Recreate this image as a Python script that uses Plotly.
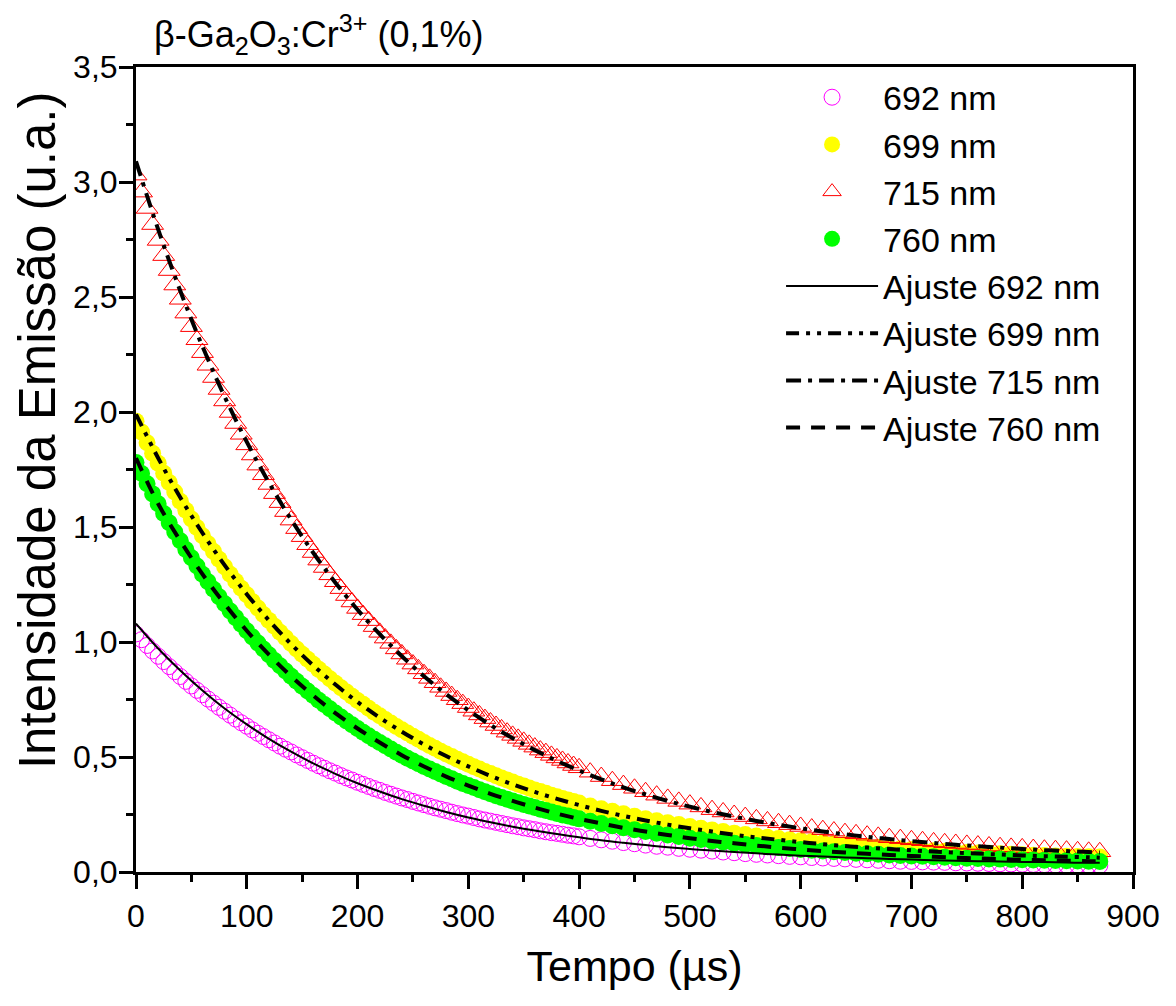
import plotly.graph_objects as go

# ---------------- data ----------------
time_us = [
    0, 5, 10, 15, 20, 25, 30, 35, 40, 45, 50, 55, 60, 65, 70, 75, 80, 85, 90, 95,
    100, 105, 110, 115, 120, 125, 130, 135, 140, 145, 150, 155, 160, 165, 170, 175, 180, 185, 190, 195,
    200, 205, 210, 215, 220, 225, 230, 235, 240, 245, 250, 255, 260, 265, 270, 275, 280, 285, 290, 295,
    300, 305, 310, 315, 320, 325, 330, 335, 340, 345, 350, 355, 360, 365, 370, 375, 380, 385, 390, 395,
    400, 410, 420, 430, 440, 450, 460, 470, 480, 490, 500, 510, 520, 530, 540, 550, 560, 570, 580, 590,
    600, 610, 620, 630, 640, 650, 660, 670, 680, 690, 700, 710, 720, 730, 740, 750, 760, 770, 780, 790,
    800, 810, 820, 830, 840, 850, 860, 870,
]

em_692 = [
    1.035, 1.010, 0.985, 0.961, 0.938, 0.915, 0.893, 0.871, 0.850, 0.829, 0.809, 0.790, 0.771, 0.752, 0.734, 0.716, 0.699, 0.682, 0.665, 0.649,
    0.634, 0.618, 0.603, 0.589, 0.575, 0.561, 0.547, 0.534, 0.522, 0.509, 0.497, 0.485, 0.473, 0.462, 0.451, 0.440, 0.430, 0.419, 0.409, 0.400,
    0.390, 0.381, 0.372, 0.363, 0.355, 0.346, 0.338, 0.330, 0.322, 0.315, 0.307, 0.300, 0.293, 0.286, 0.279, 0.273, 0.267, 0.260, 0.254, 0.248,
    0.243, 0.237, 0.231, 0.226, 0.221, 0.216, 0.211, 0.206, 0.201, 0.197, 0.192, 0.188, 0.184, 0.179, 0.175, 0.171, 0.168, 0.164, 0.160, 0.157,
    0.153, 0.146, 0.140, 0.134, 0.128, 0.123, 0.117, 0.112, 0.108, 0.103, 0.099, 0.095, 0.091, 0.087, 0.084, 0.080, 0.077, 0.074, 0.071, 0.068,
    0.066, 0.063, 0.061, 0.059, 0.057, 0.055, 0.053, 0.051, 0.049, 0.047, 0.046, 0.044, 0.043, 0.042, 0.040, 0.039, 0.038, 0.037, 0.036, 0.035,
    0.034, 0.033, 0.032, 0.031, 0.030, 0.030, 0.029, 0.028,
]

em_699 = [
    1.960, 1.913, 1.866, 1.821, 1.777, 1.734, 1.693, 1.652, 1.612, 1.573, 1.535, 1.498, 1.462, 1.427, 1.393, 1.360, 1.327, 1.295, 1.264, 1.234,
    1.205, 1.176, 1.148, 1.120, 1.094, 1.068, 1.042, 1.018, 0.993, 0.970, 0.947, 0.925, 0.903, 0.881, 0.861, 0.840, 0.821, 0.801, 0.783, 0.764,
    0.746, 0.729, 0.712, 0.695, 0.679, 0.663, 0.648, 0.633, 0.618, 0.604, 0.590, 0.577, 0.563, 0.550, 0.538, 0.525, 0.513, 0.502, 0.490, 0.479,
    0.468, 0.458, 0.448, 0.437, 0.428, 0.418, 0.409, 0.400, 0.391, 0.382, 0.374, 0.365, 0.357, 0.350, 0.342, 0.334, 0.327, 0.320, 0.313, 0.306,
    0.300, 0.287, 0.275, 0.264, 0.253, 0.242, 0.232, 0.223, 0.214, 0.206, 0.198, 0.190, 0.183, 0.176, 0.169, 0.163, 0.157, 0.151, 0.146, 0.140,
    0.136, 0.131, 0.126, 0.122, 0.118, 0.114, 0.111, 0.107, 0.104, 0.101, 0.098, 0.095, 0.092, 0.090, 0.087, 0.085, 0.083, 0.081, 0.079, 0.077,
    0.075, 0.073, 0.072, 0.070, 0.069, 0.067, 0.066, 0.065,
]

em_715 = [
    3.030, 2.956, 2.885, 2.815, 2.746, 2.680, 2.615, 2.552, 2.490, 2.430, 2.371, 2.314, 2.258, 2.203, 2.150, 2.098, 2.048, 1.998, 1.950, 1.903,
    1.857, 1.813, 1.769, 1.727, 1.685, 1.645, 1.606, 1.567, 1.530, 1.493, 1.458, 1.423, 1.389, 1.356, 1.324, 1.292, 1.262, 1.232, 1.202, 1.174,
    1.146, 1.119, 1.093, 1.067, 1.042, 1.017, 0.994, 0.970, 0.948, 0.925, 0.904, 0.883, 0.862, 0.842, 0.823, 0.803, 0.785, 0.767, 0.749, 0.732,
    0.715, 0.699, 0.683, 0.667, 0.652, 0.637, 0.622, 0.608, 0.594, 0.581, 0.568, 0.555, 0.543, 0.530, 0.519, 0.507, 0.496, 0.485, 0.474, 0.463,
    0.453, 0.434, 0.415, 0.397, 0.380, 0.364, 0.349, 0.334, 0.320, 0.307, 0.295, 0.283, 0.271, 0.261, 0.250, 0.241, 0.231, 0.222, 0.214, 0.206,
    0.198, 0.191, 0.184, 0.178, 0.171, 0.166, 0.160, 0.155, 0.149, 0.145, 0.140, 0.136, 0.131, 0.127, 0.124, 0.120, 0.117, 0.113, 0.110, 0.107,
    0.105, 0.102, 0.099, 0.097, 0.095, 0.092, 0.090, 0.088,
]

em_760 = [
    1.780, 1.733, 1.688, 1.644, 1.601, 1.559, 1.518, 1.478, 1.440, 1.402, 1.366, 1.330, 1.295, 1.262, 1.229, 1.197, 1.166, 1.135, 1.106, 1.077,
    1.049, 1.022, 0.996, 0.970, 0.945, 0.920, 0.897, 0.874, 0.851, 0.829, 0.808, 0.787, 0.767, 0.747, 0.728, 0.710, 0.691, 0.674, 0.657, 0.640,
    0.624, 0.608, 0.592, 0.577, 0.563, 0.549, 0.535, 0.521, 0.508, 0.495, 0.483, 0.471, 0.459, 0.448, 0.437, 0.426, 0.415, 0.405, 0.395, 0.385,
    0.376, 0.367, 0.358, 0.349, 0.340, 0.332, 0.324, 0.316, 0.309, 0.301, 0.294, 0.287, 0.280, 0.273, 0.267, 0.261, 0.254, 0.248, 0.243, 0.237,
    0.231, 0.221, 0.211, 0.201, 0.192, 0.184, 0.176, 0.168, 0.161, 0.154, 0.147, 0.141, 0.135, 0.130, 0.125, 0.120, 0.115, 0.110, 0.106, 0.102,
    0.098, 0.095, 0.091, 0.088, 0.085, 0.082, 0.079, 0.077, 0.074, 0.072, 0.070, 0.068, 0.066, 0.064, 0.062, 0.060, 0.059, 0.057, 0.056, 0.054,
    0.053, 0.052, 0.051, 0.050, 0.049, 0.048, 0.047, 0.046,
]

fit_time_us = [
    0, 20, 40, 60, 80, 100, 120, 140, 160, 180, 200, 220, 240, 260, 280, 300, 320, 340, 360, 380,
    400, 420, 440, 460, 480, 500, 520, 540, 560, 580, 600, 620, 640, 660, 680, 700, 720, 740, 760, 780,
    800, 820, 840, 860, 870,
]

fit_692 = [
    1.080, 0.972, 0.876, 0.789, 0.711, 0.642, 0.579, 0.523, 0.472, 0.427, 0.386, 0.350, 0.317, 0.288, 0.261, 0.237, 0.216, 0.197, 0.180, 0.165,
    0.151, 0.138, 0.127, 0.117, 0.108, 0.100, 0.093, 0.087, 0.081, 0.076, 0.071, 0.067, 0.063, 0.060, 0.057, 0.054, 0.051, 0.049, 0.047, 0.046,
    0.044, 0.043, 0.041, 0.040, 0.040,
]

fit_699 = [
    1.990, 1.800, 1.628, 1.474, 1.334, 1.208, 1.094, 0.991, 0.898, 0.815, 0.739, 0.671, 0.610, 0.554, 0.504, 0.459, 0.418, 0.381, 0.348, 0.318,
    0.291, 0.266, 0.244, 0.224, 0.206, 0.190, 0.176, 0.162, 0.150, 0.140, 0.130, 0.121, 0.113, 0.106, 0.100, 0.094, 0.089, 0.084, 0.080, 0.076,
    0.072, 0.069, 0.066, 0.064, 0.062,
]

fit_715 = [
    3.090, 2.794, 2.526, 2.285, 2.067, 1.870, 1.693, 1.533, 1.388, 1.258, 1.140, 1.034, 0.938, 0.851, 0.773, 0.703, 0.639, 0.582, 0.530, 0.483,
    0.441, 0.403, 0.368, 0.337, 0.309, 0.284, 0.261, 0.241, 0.222, 0.205, 0.190, 0.176, 0.164, 0.153, 0.143, 0.134, 0.126, 0.118, 0.112, 0.106,
    0.100, 0.095, 0.091, 0.087, 0.085,
]

fit_760 = [
    1.800, 1.601, 1.440, 1.295, 1.166, 1.049, 0.945, 0.851, 0.767, 0.691, 0.624, 0.563, 0.508, 0.459, 0.415, 0.376, 0.340, 0.309, 0.280, 0.254,
    0.231, 0.211, 0.192, 0.176, 0.161, 0.147, 0.135, 0.125, 0.115, 0.106, 0.098, 0.091, 0.085, 0.079, 0.074, 0.070, 0.066, 0.062, 0.059, 0.056,
    0.053, 0.051, 0.049, 0.047, 0.046,
]

x_ticks = [0, 100, 200, 300, 400, 500, 600, 700, 800, 900]
y_ticks = [0.0, 0.5, 1.0, 1.5, 2.0, 2.5, 3.0, 3.5]

# ---------------- figure ----------------
FONT = "Arial, 'Liberation Sans', sans-serif"
fig = go.Figure()

fig.add_trace(go.Scatter(x=time_us, y=em_692, mode="markers", name="692 nm",
                         marker=dict(symbol="circle-open", color="#FF00FF", size=16, line=dict(width=1))))
fig.add_trace(go.Scatter(x=time_us, y=em_699, mode="markers", name="699 nm",
                         marker=dict(symbol="circle", color="#FFFF00", size=17, line=dict(width=0))))
fig.add_trace(go.Scatter(x=time_us, y=em_715, mode="markers", name="715 nm",
                         marker=dict(symbol="triangle-up-open", color="#FF0000", size=19, line=dict(width=1))))
fig.add_trace(go.Scatter(x=time_us, y=em_760, mode="markers", name="760 nm",
                         marker=dict(symbol="circle", color="#00FF00", size=17, line=dict(width=0))))

fig.add_trace(go.Scatter(x=fit_time_us, y=fit_692, mode="lines", name="Ajuste 692 nm", line_shape="spline",
                         line=dict(color="black", width=2, dash="solid")))
fig.add_trace(go.Scatter(x=fit_time_us, y=fit_699, mode="lines", name="Ajuste 699 nm", line_shape="spline",
                         line=dict(color="black", width=4, dash="13px,7px,4px,7px,4px,7px")))
fig.add_trace(go.Scatter(x=fit_time_us, y=fit_715, mode="lines", name="Ajuste 715 nm", line_shape="spline",
                         line=dict(color="black", width=4, dash="15px,7px,4px,7px")))
fig.add_trace(go.Scatter(x=fit_time_us, y=fit_760, mode="lines", name="Ajuste 760 nm", line_shape="spline",
                         line=dict(color="black", width=4, dash="14px,11px")))

axis_common = dict(
    showline=True, linecolor="black", linewidth=3, mirror=True,
    ticks="outside", ticklen=14, tickwidth=2.5, tickcolor="black",
    showgrid=False, zeroline=False,
    tickfont=dict(family=FONT, size=32, color="black"),
)

fig.update_xaxes(
    range=[0, 900], tickvals=x_ticks, ticktext=[str(v) for v in x_ticks],
    minor=dict(ticks="outside", ticklen=7, tickwidth=2.5, tickcolor="black", dtick=50, showgrid=False),
    title=dict(text="Tempo (µs)", font=dict(family=FONT, size=43, color="black"), standoff=18),
    **axis_common,
)
fig.update_yaxes(
    range=[0, 3.5], tickvals=y_ticks, ticktext=[f"{v:.1f}".replace(".", ",") for v in y_ticks],
    minor=dict(ticks="outside", ticklen=7, tickwidth=2.5, tickcolor="black", dtick=0.25, showgrid=False),
    ticklabelstandoff=-5,
    **axis_common,
)

# y-axis title (placed higher than centre, as in the reference)
fig.add_annotation(
    text="Intensidade da Emissão (u.a.)", textangle=-90,
    xref="paper", yref="paper", x=-0.0993, y=0.549, xanchor="center", yanchor="middle",
    showarrow=False, font=dict(family=FONT, size=51, color="black"),
)

fig.add_annotation(
    text="β-Ga<sub>2</sub>O<sub>3</sub>:Cr<sup>3+</sup> (0,1%)",
    xref="paper", yref="paper", x=0.016, y=1.040, xanchor="left", yanchor="middle",
    showarrow=False, font=dict(family=FONT, size=36, color="black"),
)

fig.update_layout(
    width=1176, height=1006,
    margin=dict(l=128, r=51, t=59, b=142),
    paper_bgcolor="white", plot_bgcolor="white",
    showlegend=True,
    legend=dict(
        x=0.647, y=0.998, xanchor="left", yanchor="top",
        bgcolor="rgba(0,0,0,0)", borderwidth=0,
        font=dict(family=FONT, size=34, color="black"),
        tracegroupgap=0, itemwidth=92,
    ),
)

fig.write_html("out.html")
